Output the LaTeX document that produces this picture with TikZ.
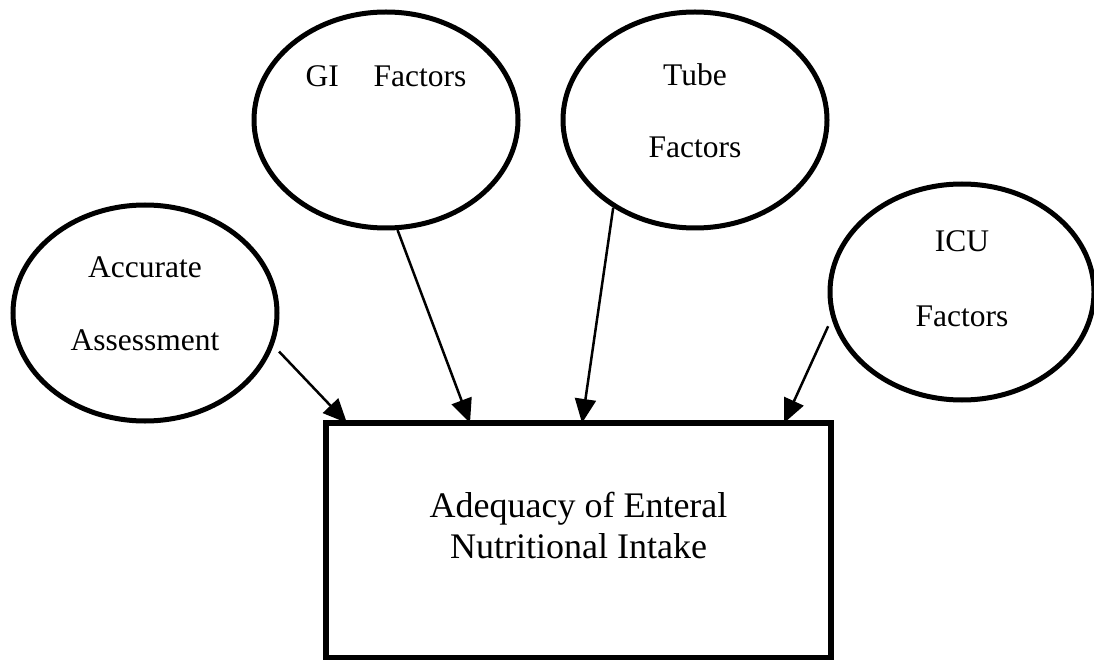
\documentclass[tikz,border=0pt]{standalone}
\usepackage{fontspec}
\setmainfont{Liberation Serif}
\usetikzlibrary{shapes.geometric,arrows.meta}
\tikzset{
  bubble/.style={ellipse, draw, line width=5pt, minimum width=264pt, minimum height=216pt, inner sep=0pt},
  outcome/.style={rectangle, draw, line width=5.5pt, minimum width=505pt, minimum height=235pt, inner sep=0pt, outer sep=0pt},
  lbl/.style={inner sep=0pt, font=\fontsize{31.5}{36}\selectfont},
  boxlbl/.style={inner sep=0pt, align=center, font=\fontsize{36}{41}\selectfont},
  link/.style={line width=2.5pt, -{Triangle[length=24pt,width=21pt]}}
}
\begin{document}
\begin{tikzpicture}[x=1pt, y=-1pt]
\useasboundingbox (0,0) rectangle (1094,660);
% ellipses
\node[bubble] (acc) at (145,313) {};
\node[bubble] (gi) at (386,120) {};
\node[bubble] (tube) at (695,120) {};
\node[bubble] (icu) at (962,292) {};
% labels
\node[lbl] (accA) at (145,267) {Accurate};
\node[lbl] (accB) at (145,340) {Assessment};
\node[lbl] (giA) at (386,76) {GI\hspace{1.1em}Factors};
\node[lbl] (tubeA) at (695,75) {Tube};
\node[lbl] (tubeB) at (695,147) {Factors};
\node[lbl] (icuA) at (962,241) {ICU};
\node[lbl] (icuB) at (962,316) {Factors};
% box
\node[outcome] (box) at (578.5,540.5) {};
\node[boxlbl] (boxt) at (578.5,525) {Adequacy of Enteral\\Nutritional Intake};
% end points on the box top
\coordinate (e1) at ([xshift=21pt]box.north west);
\coordinate (e2) at ([xshift=144pt]box.north west);
\coordinate (e3) at ([xshift=256pt]box.north west);
\coordinate (e4) at ([xshift=458pt]box.north west);
% connectors
\draw[link] ([xshift=8pt]acc.-17) -- (e1);
\draw[link] (gi.-84) -- (e2);
\draw[link] (tube.-133) -- (e3);
\draw[link] ([xshift=-6pt]icu.-165) -- (e4);
\end{tikzpicture}
\end{document}
